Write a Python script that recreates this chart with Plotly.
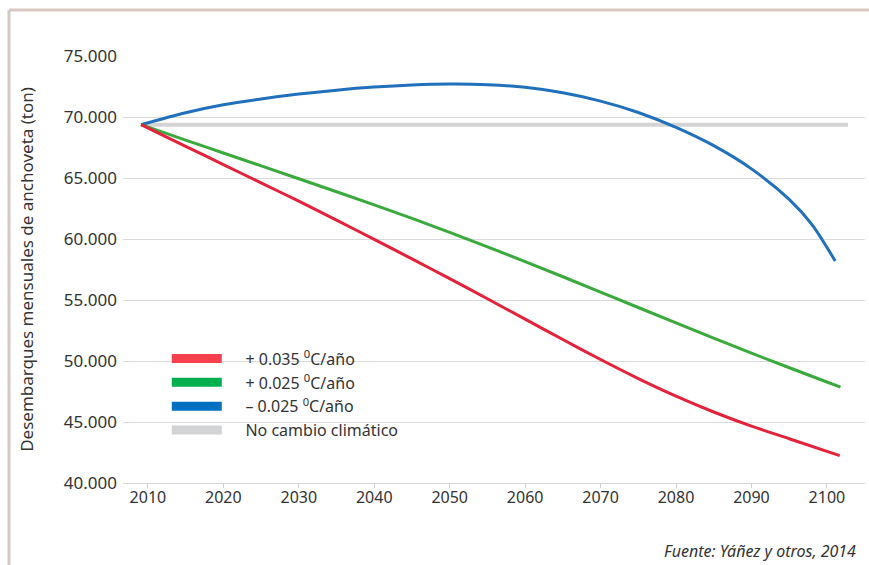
import plotly.graph_objects as go

# ---- data ----
years_red = [2009.1, 2015, 2020, 2025, 2030, 2035, 2040, 2045, 2050, 2055, 2060,
             2065, 2070, 2075, 2080, 2085, 2090, 2095, 2101.7]
red_vals = [69370, 67600, 66100, 64600, 63100, 61550, 59970, 58370, 56750, 55100, 53430,
            51760, 50120, 48560, 47120, 45820, 44660, 43630, 42250]

years_green = [2009.1, 2015, 2020, 2030, 2040, 2050, 2060, 2070, 2080, 2090, 2100, 2101.8]
green_vals = [69370, 68110, 67050, 64940, 62800, 60550, 58150, 55650, 53120, 50640, 48280, 47860]

years_blue = [2009.1, 2015, 2020, 2025, 2030, 2035, 2040, 2045, 2050, 2055, 2060, 2065,
              2070, 2075, 2080, 2085, 2090, 2095, 2098, 2101.1]
blue_vals = [69370, 70350, 71000, 71480, 71880, 72200, 72450, 72620, 72700, 72650, 72430, 71980,
             71300, 70370, 69150, 67650, 65750, 63250, 61200, 58200]

years_gray = [2009.1, 2102.8]
gray_vals = [69370, 69370]

series_names = ["+ 0.035 <sup>0</sup>C/año", "+ 0.025 <sup>0</sup>C/año",
                "– 0.025 <sup>0</sup>C/año", "No cambio climático"]
line_colors = ["#e3233a", "#3aaa3c", "#2070bb", "#d4d4d4"]
legend_colors = ["#f7404e", "#00b04f", "#0070c0", "#d1d3d4"]

y_ticks = [40000, 45000, 50000, 55000, 60000, 65000, 70000, 75000]
x_ticks = [2010, 2020, 2030, 2040, 2050, 2060, 2070, 2080, 2090, 2100]

y_title = "Desembarques mensuales de anchoveta (ton)"
source_text = "Fuente: Yáñez y otros, 2014"

FONT = "Noto Sans, Open Sans, sans-serif"

fig = go.Figure()

data_series = [
    (years_gray, gray_vals, 3, 4),
    (years_blue, blue_vals, 2, 3),
    (years_green, green_vals, 1, 3),
    (years_red, red_vals, 0, 3),
]
for xs, ys, idx, w in data_series:
    fig.add_trace(go.Scatter(x=xs, y=ys, mode="lines", showlegend=False,
                             line=dict(color=line_colors[idx], width=w, shape="spline",
                                       smoothing=0.8),
                             hoverinfo="skip"))

# legend entries (thick bars like the reference key)
for i, name in enumerate(series_names):
    fig.add_trace(go.Scatter(x=[None], y=[None], mode="lines",
                             name="\u2003\u2009" + name,
                             line=dict(color=legend_colors[i], width=9)))

fig.update_layout(
    width=869, height=565,
    margin=dict(l=123, r=4, t=56, b=82),
    paper_bgcolor="white", plot_bgcolor="white",
    separators=",.",
    font=dict(family=FONT, color="#333333"),
    showlegend=True,
    legend=dict(x=0.059, y=0.331, xanchor="left", yanchor="top",
                bgcolor="rgba(255,255,255,0)", font=dict(size=16, color="#333333"),
                itemwidth=50, tracegroupgap=0),
    xaxis=dict(range=[2006.7, 2105.05], tickvals=x_ticks, showgrid=False,
               zeroline=False, showline=True, linecolor="#d6d6d6", linewidth=1,
               ticks="outside", ticklen=4, tickcolor="#cfcfcf", ticklabelstandoff=-4,
               tickfont=dict(size=16, color="#333333")),
    yaxis=dict(range=[40000, 75000], tickvals=y_ticks, tickformat=",",
               showgrid=True, gridcolor="#dadada", gridwidth=1, zeroline=False,
               ticks="", ticklabelstandoff=5, tickfont=dict(size=17, color="#333333"),
               title=dict(text=y_title, font=dict(size=17, color="#333333"), standoff=25)),
)

# frame lines (top and left border of the figure box)
fig.add_shape(type="line", xref="paper", yref="paper",
              x0=(9 - 123) / 742, x1=(869 - 123) / 742,
              y0=(483 - 10) / 427, y1=(483 - 10) / 427,
              line=dict(color="#d6c9c2", width=3))
fig.add_shape(type="line", xref="paper", yref="paper",
              x0=(9 - 123) / 742, x1=(9 - 123) / 742,
              y0=(483 - 10) / 427, y1=(483 - 566) / 427,
              line=dict(color="#d6c9c2", width=3))

fig.add_annotation(text="<i>" + source_text + "</i>", xref="paper", yref="paper",
                   x=(858 - 123) / 742, y=(483 - 551) / 427, xanchor="right", yanchor="middle",
                   showarrow=False, font=dict(size=16, color="#333333"))

fig.write_html("out.html", config={"displayModeBar": False},
               post_script="document.body.style.margin='0px';")
